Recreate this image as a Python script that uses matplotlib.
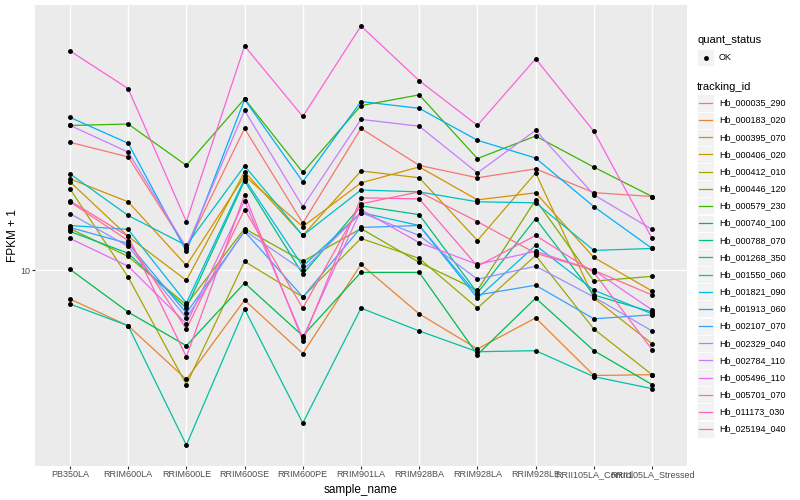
import matplotlib
matplotlib.use("Agg")
import numpy as np
import matplotlib.pyplot as plt
from matplotlib.patches import Rectangle
from matplotlib.lines import Line2D

plt.rcParams['font.family'] = ['Liberation Sans', 'DejaVu Sans']

samples = ["PB350LA", "RRIM600LA", "RRIM600LE", "RRIM600SE", "RRIM600PE",
           "RRIM901LA", "RRIM928BA", "RRIM928LA", "RRIM928LE",
           "RRII105LA_Control", "RRII105LA_Stressed"]

tracking_ids = ["Hb_000035_290", "Hb_000183_020", "Hb_000395_070", "Hb_000406_020",
                "Hb_000412_010", "Hb_000446_120", "Hb_000579_230", "Hb_000740_100",
                "Hb_000788_070", "Hb_001268_350", "Hb_001550_060", "Hb_001821_090",
                "Hb_001913_060", "Hb_002107_070", "Hb_002329_040", "Hb_002784_110",
                "Hb_005496_110", "Hb_005701_070", "Hb_011173_030", "Hb_025194_040"]

# ggplot hue palette, 20 levels
colours = ["#F8766D", "#EA8331", "#D89000", "#C09B00", "#A3A500", "#7CAE00",
           "#39B600", "#00BB4E", "#00BF7D", "#00C1A3", "#00BFC4", "#00BAE0",
           "#00B0F6", "#35A2FF", "#9590FF", "#C77CFF", "#E76BF3", "#FA62DB",
           "#FF62BC", "#FF6C91"]

# FPKM + 1 per sample
hb_000035_290 = [16.4, 15.5, 10.9, 17.3, 12.0, 17.3, 15.0, 14.3, 14.8, 13.5, 13.3]
hb_000183_020 = [8.95, 8.07, 6.56, 8.91, 7.25, 10.23, 8.45, 7.38, 8.32, 6.66, 6.68]
hb_000395_070 = [14.24, 13.03, 10.19, 14.40, 11.84, 14.02, 14.91, 13.13, 13.49, 10.51, 9.23]
hb_000406_020 = [14.08, 11.40, 9.62, 14.63, 11.44, 14.68, 14.30, 11.22, 14.57, 8.98, 7.53]
hb_000412_010 = [13.70, 9.74, 6.43, 10.35, 9.02, 11.31, 10.47, 8.64, 10.59, 7.97, 6.68]
hb_000446_120 = [11.75, 10.55, 8.75, 11.75, 10.35, 11.75, 10.31, 9.26, 13.13, 9.59, 9.77]
hb_000579_230 = [17.5, 17.6, 15.0, 19.4, 14.6, 18.9, 19.7, 15.4, 16.8, 14.9, 13.3]
hb_000740_100 = [10.04, 8.51, 7.47, 9.52, 7.76, 9.92, 9.92, 7.22, 8.98, 7.33, 6.43]
hb_000788_070 = [11.62, 10.68, 8.64, 14.13, 9.85, 12.83, 12.40, 9.16, 12.21, 9.09, 8.51]
hb_001268_350 = [8.78, 8.07, 5.09, 8.61, 5.54, 8.64, 7.91, 7.30, 7.33, 6.63, 6.33]
hb_001550_060 = [14.52, 12.36, 11.01, 14.97, 11.44, 13.64, 13.54, 13.03, 12.98, 10.80, 10.88]
hb_001821_090 = [11.89, 11.71, 8.81, 14.24, 10.16, 12.50, 11.89, 8.98, 11.01, 9.26, 8.45]
hb_001913_060 = [18.06, 16.34, 10.76, 19.35, 14.08, 19.20, 18.70, 16.53, 15.43, 12.79, 10.88]
hb_002107_070 = [11.80, 11.09, 8.48, 11.62, 9.02, 11.80, 11.89, 9.09, 9.44, 8.29, 8.42]
hb_002329_040 = [12.45, 10.97, 8.32, 11.66, 10.00, 12.50, 11.44, 9.66, 10.16, 9.02, 7.91]
hb_002784_110 = [17.51, 15.79, 10.92, 18.55, 12.79, 17.92, 17.45, 14.57, 17.18, 13.39, 11.71]
hb_005496_110 = [11.31, 10.16, 8.13, 13.08, 7.70, 12.64, 11.13, 10.23, 10.76, 10.00, 8.58]
hb_005701_070 = [23.35, 20.18, 12.07, 23.80, 18.12, 25.71, 20.81, 17.51, 22.65, 17.11, 11.31]
hb_011173_030 = [13.08, 11.40, 7.16, 13.39, 7.62, 13.23, 13.18, 10.16, 11.44, 9.92, 7.36]
hb_025194_040 = [13.03, 11.22, 7.97, 12.64, 8.64, 12.93, 13.54, 12.07, 10.68, 10.00, 9.09]

series = [hb_000035_290, hb_000183_020, hb_000395_070, hb_000406_020, hb_000412_010,
          hb_000446_120, hb_000579_230, hb_000740_100, hb_000788_070, hb_001268_350,
          hb_001550_060, hb_001821_090, hb_001913_060, hb_002107_070, hb_002329_040,
          hb_002784_110, hb_005496_110, hb_005701_070, hb_011173_030, hb_025194_040]

W, H = 800, 500
fig = plt.figure(figsize=(8, 5), dpi=100)
ax = fig.add_axes([35 / W, 1 - 466 / H, (687 - 35) / W, (466 - 5) / H])
ax.set_facecolor("#EBEBEB")
for s in ax.spines.values():
    s.set_visible(False)

x = np.arange(len(samples))
for vals, c in zip(series, colours):
    ax.plot(x, vals, color=c, lw=0.9, zorder=2)
for vals in series:
    ax.plot(x, vals, "o", color="black", ms=2.5, zorder=3)

ax.set_yscale("log")
allv = np.log10(np.concatenate([np.array(v) for v in series]))
lo, hi = allv.min(), allv.max()
pad = 0.05 * (hi - lo)
ax.set_ylim(10 ** (lo - pad), 10 ** (hi + pad))
ax.set_xlim(-0.6, len(samples) - 0.4)
ax.yaxis.set_minor_locator(matplotlib.ticker.NullLocator())
ax.set_yticks([10])
ax.set_yticklabels(["10"])
ax.set_xticks(x)
ax.set_xticklabels(samples)
ax.grid(True, color="white", lw=1.0, zorder=0)
ax.set_axisbelow(True)
ax.tick_params(axis="both", colors="#333333", length=2.2, width=0.8,
               labelsize=6.5, labelcolor="#4D4D4D", pad=1)
ax.set_xlabel("sample_name", fontsize=8.5, labelpad=3)
ax.set_ylabel("FPKM + 1", fontsize=8.5, labelpad=1)

# legends, drawn like ggplot's guides
def fx(px):
    return px / W

def fy(py):
    return 1 - py / H

fig.text(fx(697), fy(40), "quant_status", fontsize=8, va="center", ha="left")
fig.add_artist(Rectangle((fx(697), fy(66)), 17 / W, 17 / H, transform=fig.transFigure,
                         facecolor="#F2F2F2", edgecolor="white", lw=0.5))
fig.add_artist(Line2D([fx(705.5)], [fy(57.5)], marker="o", ms=2.5, color="black",
                      transform=fig.transFigure))
fig.text(fx(719), fy(57.5), "OK", fontsize=6.5, va="center", ha="left")

fig.text(fx(697), fy(87), "tracking_id", fontsize=8, va="center", ha="left")
for i, (name, c) in enumerate(zip(tracking_ids, colours)):
    yc = 103 + i * 17.16
    fig.add_artist(Rectangle((fx(697), fy(yc + 8.5)), 17 / W, 17 / H,
                             transform=fig.transFigure, facecolor="#F2F2F2",
                             edgecolor="white", lw=0.5))
    fig.add_artist(Line2D([fx(699), fx(712)], [fy(yc), fy(yc)], color=c, lw=0.9,
                          transform=fig.transFigure))
    fig.text(fx(719), fy(yc), name, fontsize=6.5, va="center", ha="left")

fig.savefig("out.png", dpi=100)
